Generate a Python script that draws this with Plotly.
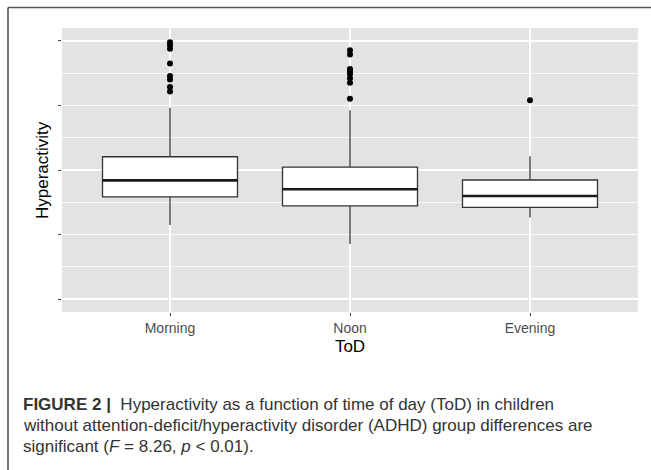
import plotly.graph_objects as go

# ---- data (arbitrary unlabeled y scale) ----
categories = ["Morning", "Noon", "Evening"]
q1 = [1.583, 1.444, 1.420]
median = [1.840, 1.701, 1.598]
q3 = [2.205, 2.045, 1.845]
lower_whisker = [1.147, 0.855, 1.266]
upper_whisker = [2.964, 2.925, 2.214]
outliers_morning = [3.980, 3.934, 3.880, 3.649, 3.457, 3.403, 3.287, 3.218]
outliers_noon = [3.857, 3.791, 3.564, 3.523, 3.487, 3.421, 3.353, 3.102]
outliers_evening = [3.082]
y_ticks = [0, 1, 2, 3, 4]
y_minor = [0.5, 1.5, 2.5, 3.5]

outliers = [outliers_morning, outliers_noon, outliers_evening]

W, H = 651, 470
L, R, T, B = 62, 13, 28, 158
PW, PH = W - L - R, H - T - B
BOX_W = 0.75

def px_x(p):
    return (p - L) / PW

def px_y(p):
    return (H - B - p) / PH

fig = go.Figure()
positions = list(range(1, len(categories) + 1))

for i, cat in enumerate(categories):
    pos = positions[i]
    fig.add_trace(go.Box(
        x=[pos], q1=[q1[i]], median=[median[i]], q3=[q3[i]],
        lowerfence=[lower_whisker[i]], upperfence=[upper_whisker[i]],
        width=BOX_W, whiskerwidth=0, boxpoints=False,
        fillcolor="white", line=dict(color="#333333", width=1.3),
        name=cat, showlegend=False, hoverinfo="skip",
    ))
    # thicker median bar (ggplot style)
    fig.add_trace(go.Scatter(
        x=[pos - BOX_W / 2, pos + BOX_W / 2], y=[median[i], median[i]],
        mode="lines", line=dict(color="#1a1a1a", width=2.6),
        showlegend=False, hoverinfo="skip",
    ))
    fig.add_trace(go.Scatter(
        x=[pos] * len(outliers[i]), y=outliers[i], mode="markers",
        marker=dict(color="black", size=6),
        showlegend=False, hoverinfo="skip",
    ))

fig.update_layout(
    width=W, height=H,
    margin=dict(l=L, r=R, t=T, b=B, pad=0),
    paper_bgcolor="white",
    plot_bgcolor="#E3E3E3",
    font=dict(family="Liberation Sans, Arial, sans-serif", color="#222"),
    showlegend=False,
    boxmode="overlay",
)

fig.update_xaxes(
    range=[0.4, 3.6], tickvals=positions, ticktext=categories,
    showgrid=True, gridcolor="white", gridwidth=1.3, zeroline=False,
    ticks="outside", ticklen=3, tickcolor="#444", tickwidth=1,
    tickfont=dict(size=14, color="#4D4D4D"), showline=False,
    title=dict(text="ToD", font=dict(size=17, color="black"), standoff=5),
)
fig.update_yaxes(
    range=[-0.2, 4.2], tickvals=y_ticks, showticklabels=False,
    showgrid=True, gridcolor="white", gridwidth=1.5, zeroline=False,
    ticks="outside", ticklen=3, tickcolor="#444", tickwidth=1,
    minor=dict(tickvals=y_minor, showgrid=True, gridcolor="white", gridwidth=0.8, ticks=""),
    showline=False,
)

# y-axis title
fig.add_annotation(
    text="Hyperactivity", textangle=-90, xref="paper", yref="paper",
    x=px_x(42), y=0.5, xanchor="center", yanchor="middle", showarrow=False,
    font=dict(size=17, color="black"),
)

# outer frame (top and left edges)
fig.add_shape(type="line", xref="paper", yref="paper",
              x0=px_x(8), x1=px_x(W + 2), y0=px_y(7.5), y1=px_y(7.5),
              line=dict(color="#555", width=1.6))
fig.add_shape(type="line", xref="paper", yref="paper",
              x0=px_x(8), x1=px_x(8), y0=px_y(7.5), y1=px_y(H + 2),
              line=dict(color="#555", width=1.6))

caption_lines = [
    "<b>FIGURE 2</b> <b>|</b>  Hyperactivity as a function of time of day (ToD) in children",
    "without attention-deficit/hyperactivity disorder (ADHD) group differences are",
    "significant (<i>F</i> = 8.26, <i>p</i> &lt; 0.01).",
]
caption_y = [404, 425, 446]
for line, cy in zip(caption_lines, caption_y):
    fig.add_annotation(
        text=line, xref="paper", yref="paper", x=px_x(21), y=px_y(cy),
        xanchor="left", yanchor="middle", showarrow=False,
        font=dict(size=17, color="#333"),
    )

fig.write_html(
    "out.html",
    config={"displayModeBar": False, "staticPlot": True},
    post_script="document.body.style.margin='0';document.body.style.overflow='hidden';",
)
